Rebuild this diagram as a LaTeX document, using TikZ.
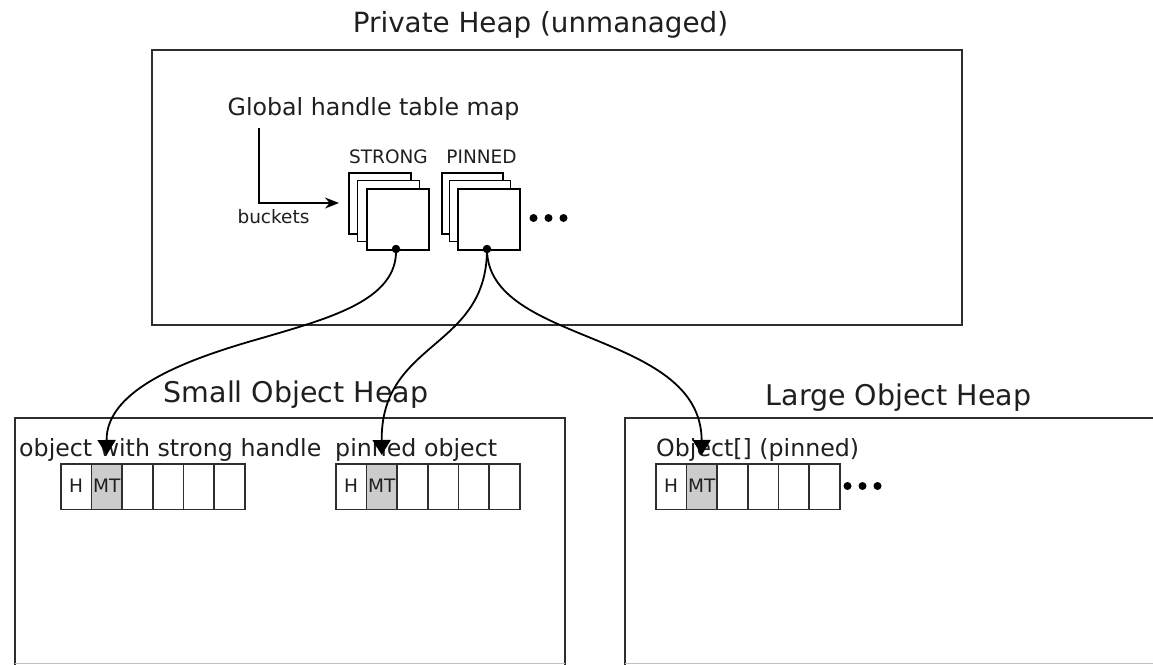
\documentclass[tikz,border=0pt]{standalone}
\usepackage{fontspec}
\setmainfont{DejaVu Sans}
\usetikzlibrary{arrows.meta}
\definecolor{edge}{HTML}{2E2E2E}
\definecolor{mtgrey}{HTML}{CCCCCC}
\tikzset{
  heapbox/.style={draw=edge, line width=2pt},
  bucketsq/.style={draw=black, fill=white, line width=1.6pt},
  cellbox/.style={draw=edge, fill=white, line width=1.5pt},
  mtcell/.style={cellbox, fill=mtgrey},
  titletext/.style={inner sep=0pt, anchor=base, font=\fontsize{28.5}{34}\selectfont, text=black!88},
  labeltext/.style={inner sep=0pt, anchor=base, font=\fontsize{23.7}{28}\selectfont, text=black!88},
  smalltext/.style={inner sep=0pt, anchor=base, font=\fontsize{18.5}{22}\selectfont, text=black!88},
  celltext/.style={inner sep=0pt, font=\fontsize{18.5}{22}\selectfont, text=black!88},
  handle/.style={line width=1.8pt, draw=black, -{Triangle[length=15pt,width=18pt]}},
  dotmark/.style={circle, fill=black, inner sep=0pt, minimum size=8.5pt},
  ellipsisdot/.style={circle, fill=black, inner sep=0pt, minimum size=8pt}
}
\begin{document}
\begin{tikzpicture}[x=1pt, y=-1pt]
\useasboundingbox (0,0) rectangle (1153,664);
\fill[white] (0,0) rectangle (1153,664);

% Private heap
\node[titletext, font=\fontsize{27.8}{33}\selectfont] (phtitle) at (540.5,32) {Private Heap (unmanaged)};
\draw[heapbox] (152,49.5) rectangle (962,325);
\node[labeltext] (ghtm) at (373.5,115) {Global handle table map};
\coordinate (lcorner) at (259,203);
\coordinate (ltop) at (259,128);
\coordinate (ltip) at (339,203);
\draw[line width=1.5pt, -{Stealth[length=14pt,width=11pt]}] (ltop) -- (lcorner) -- (ltip);
\node[smalltext] (bucketslbl) at (273.5,223) {buckets};
\node[smalltext] (stronglbl) at (388.5,163) {STRONG};
\node[smalltext] (pinnedlbl) at (481.5,163) {PINNED};

% strong buckets
\draw[bucketsq] (349,173) rectangle (411,234);
\draw[bucketsq] (357.5,180.5) rectangle (419.5,241.5);
\node[bucketsq, minimum width=62pt, minimum height=61pt, anchor=north west, inner sep=0pt] (sfront) at (366,188) {};
% pinned buckets
\draw[bucketsq] (442,173) rectangle (503,234);
\draw[bucketsq] (449.5,180.5) rectangle (510.5,241.5);
\node[bucketsq, minimum width=62pt, minimum height=61pt, anchor=north west, inner sep=0pt] (pfront) at (457,188) {};

\node[dotmark] (sdot) at (396,249) {};
\node[dotmark] (pdot) at (487,249) {};
\node[ellipsisdot] (e1) at (533.5,218) {};
\node[ellipsisdot] (e2) at (548.5,218) {};
\node[ellipsisdot] (e3) at (563.5,218) {};

% Small object heap
\node[titletext] (sohtitle) at (296,402.5) {Small Object Heap};
\draw[heapbox] (14.5,664.5) -- (14.5,417.5) -- (564.5,417.5) -- (564.5,664.5);
\draw[draw=black!25, line width=1pt] (14.5,663.5) -- (564.5,663.5);
\node[labeltext, anchor=base west] (obj1lbl) at (19,456) {object with strong handle};
\node[labeltext, anchor=base west] (obj2lbl) at (335,456) {pinned object};

% Large object heap
\node[titletext] (lohtitle) at (898.5,405) {Large Object Heap};
\draw[heapbox] (624.5,664.5) -- (624.5,417.5) -- (1160,417.5);
\draw[draw=black!25, line width=1pt] (624.5,663.5) -- (1153,663.5);
\node[labeltext, anchor=base west] (obj3lbl) at (656,456) {Object[] (pinned)};

% cell rows
\foreach \rx/\nm in {60/a,335/b,655/c}{
  \foreach \i in {0,...,5}{
    \ifnum\i=1
      \node[mtcell, minimum width=30.67pt, minimum height=45.5pt, anchor=north west, inner sep=0pt] (\nm\i) at ({\rx+30.67*\i},463) {};
    \else
      \node[cellbox, minimum width=30.67pt, minimum height=45.5pt, anchor=north west, inner sep=0pt] (\nm\i) at ({\rx+30.67*\i},463) {};
    \fi
  }
  \node[celltext] at ([yshift=1pt]\nm0.center) {H};
  \node[celltext] at ([yshift=1pt]\nm1.center) {MT};
}
\node[ellipsisdot] (l1) at (847.5,486) {};
\node[ellipsisdot] (l2) at (862.5,486) {};
\node[ellipsisdot] (l3) at (877.5,486) {};

% handle connectors
\coordinate (t1) at ([yshift=8pt]a1.north);
\coordinate (t2) at ([yshift=8pt]b1.north);
\coordinate (t3) at ([yshift=8pt]c1.north);
\coordinate (m1) at (262,338);
\draw[line width=1.8pt] (sdot.center) .. controls (398,300) and (330,318) .. (m1);
\draw[handle] (m1) .. controls (191,358) and (106,388) .. (t1);
\draw[handle] (pdot.center) .. controls (487,350) and (381,340) .. (t2);
\draw[handle] (pdot.center) .. controls (487,345) and (701,330) .. (t3);
\end{tikzpicture}
\end{document}
